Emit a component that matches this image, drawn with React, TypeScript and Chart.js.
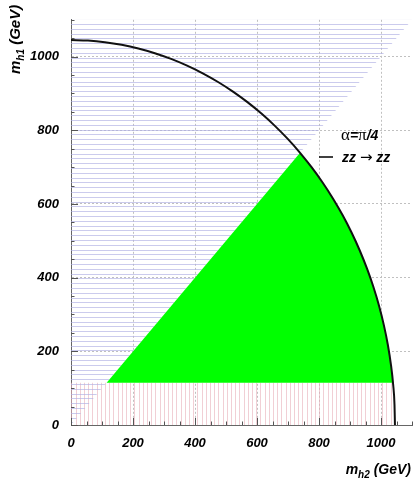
import { useEffect, useRef } from "react";
import { Chart, registerables } from "chart.js";

Chart.register(...registerables);

// ---- chart values ----
const AXIS_MIN = 0;
const AXIS_MAX = 1100;
const MAJOR_STEP = 200;
const MINOR_STEP = 50;
const RADIUS = 1045; // unitarity bound radius (GeV)
const Y_CUT = 115; // lower edge of allowed (green) region (GeV)
const ARC_ANGLES_DEG = [90, 87, 84, 81, 78, 75, 72, 69, 66, 63, 60, 57, 54, 51, 48, 45, 42, 39, 36, 33, 30, 27, 24, 21, 18, 15, 12, 9, 6, 3, 0];
const BLUE_REGION_X = [0, 1100, 0];
const BLUE_REGION_Y = [0, 1100, 1100];

const rad = (d: number) => (d * Math.PI) / 180;
const arcPt = (d: number) => ({ x: RADIUS * Math.cos(rad(d)), y: RADIUS * Math.sin(rad(d)) });
const cutDeg = (Math.asin(Y_CUT / RADIUS) * 180) / Math.PI;

const circleData = ARC_ANGLES_DEG.map(arcPt);
const greenData = [
  { x: Y_CUT, y: Y_CUT },
  arcPt(45),
  ...ARC_ANGLES_DEG.filter((d) => d < 45 && d > cutDeg).map(arcPt),
  arcPt(cutDeg),
  { x: Y_CUT, y: Y_CUT },
];
const redData = [
  { x: 0, y: 0 },
  arcPt(0),
  ...ARC_ANGLES_DEG.filter((d) => d > 0 && d < cutDeg).reverse().map(arcPt),
  arcPt(cutDeg),
  { x: 0, y: Y_CUT },
  { x: 0, y: 0 },
];
const blueData = BLUE_REGION_X.map((x, i) => ({ x, y: BLUE_REGION_Y[i] }));

const SANS = "'Liberation Sans', Arial, Helvetica, sans-serif";
const SERIF = "'Liberation Serif', 'DejaVu Serif', serif";

function makePattern(horizontal: boolean, color: string, spacing: number, count: number) {
  const c = document.createElement("canvas");
  const len = Math.round(spacing * count);
  c.width = horizontal ? 8 : len;
  c.height = horizontal ? len : 8;
  const g = c.getContext("2d")!;
  g.fillStyle = color;
  for (let i = 0; i < count; i++) {
    const p = Math.round(i * spacing);
    if (horizontal) g.fillRect(0, p, 8, 1);
    else g.fillRect(p, 0, 1, 8);
  }
  return g.createPattern(c, "repeat")!;
}

type Part = { t: string; font: string; dy?: number };
function drawParts(ctx: CanvasRenderingContext2D, parts: Part[], x: number, y: number) {
  let cx = x;
  for (const p of parts) {
    ctx.font = p.font;
    ctx.fillText(p.t, cx, y + (p.dy || 0));
    cx += ctx.measureText(p.t).width;
  }
  return cx - x;
}
function partsWidth(ctx: CanvasRenderingContext2D, parts: Part[]) {
  let w = 0;
  for (const p of parts) {
    ctx.font = p.font;
    w += ctx.measureText(p.t).width;
  }
  return w;
}

const decorPlugin = {
  id: "decor",
  afterDraw(chart: any) {
    const ctx: CanvasRenderingContext2D = chart.ctx;
    const xs = chart.scales.x;
    const ys = chart.scales.y;
    ctx.save();
    // inner ticks
    ctx.strokeStyle = "#555";
    ctx.lineWidth = 1;
    for (let v = AXIS_MIN; v <= AXIS_MAX; v += MINOR_STEP) {
      const len = v % MAJOR_STEP === 0 ? 7 : 3.5;
      const px = Math.round(xs.getPixelForValue(v)) + 0.5;
      ctx.beginPath();
      ctx.moveTo(px, ys.bottom);
      ctx.lineTo(px, ys.bottom - len);
      ctx.stroke();
      const py = Math.round(ys.getPixelForValue(v)) + 0.5;
      ctx.beginPath();
      ctx.moveTo(xs.left, py);
      ctx.lineTo(xs.left + len, py);
      ctx.stroke();
    }
    ctx.fillStyle = "#000";
    ctx.textBaseline = "alphabetic";
    ctx.textAlign = "left";
    const bi = (s: number) => `italic bold ${s}px ${SANS}`;
    // y title (rotated)
    ctx.save();
    ctx.translate(20, 74);
    ctx.rotate(-Math.PI / 2);
    drawParts(ctx, [
      { t: "m", font: bi(15) },
      { t: "h1", font: bi(10), dy: 4 },
      { t: " (GeV)", font: bi(15) },
    ], 0, 0);
    ctx.restore();
    // x title
    const xParts: Part[] = [
      { t: "m", font: bi(14) },
      { t: "h2", font: bi(10), dy: 4 },
      { t: " (GeV)", font: bi(14) },
    ];
    const w = partsWidth(ctx, xParts);
    drawParts(ctx, xParts, 411 - w, 474);
    // legend
    drawParts(ctx, [
      { t: "α", font: `17px ${SERIF}` },
      { t: "=", font: bi(14) },
      { t: "π", font: `17px ${SERIF}` },
      { t: "/4", font: bi(14) },
    ], 341, 140);
    ctx.strokeStyle = "#000";
    ctx.lineWidth = 1.5;
    ctx.beginPath();
    ctx.moveTo(319, 157);
    ctx.lineTo(333, 157);
    ctx.stroke();
    drawParts(ctx, [
      { t: "zz ", font: bi(14) },
      { t: "→", font: `15px 'DejaVu Sans', sans-serif` },
      { t: " zz", font: bi(14) },
    ], 342, 162);
    ctx.restore();
  },
};

export default function App() {
  const ref = useRef<HTMLCanvasElement>(null);
  useEffect(() => {
    const canvas = ref.current!;
    const bluePat = makePattern(true, "rgba(175,175,228,0.65)", 4.8, 5);
    const redPat = makePattern(false, "rgba(232,175,185,0.6)", 4.2, 5);
    const tickFont = { family: SANS, size: 13, weight: "bold" as const, style: "italic" as const };
    const chart = new Chart(canvas, {
      type: "line",
      data: {
        datasets: [
          { data: redData, fill: "shape", backgroundColor: redPat, borderWidth: 0, pointRadius: 0, order: 4 } as any,
          { data: blueData, fill: "shape", backgroundColor: bluePat, borderWidth: 0, pointRadius: 0, order: 3 } as any,
          { data: greenData, fill: "shape", backgroundColor: "#00ff00", borderWidth: 0, pointRadius: 0, order: 2 } as any,
          { data: circleData, fill: false, borderColor: "#111", borderWidth: 2, pointRadius: 0, tension: 0.4, cubicInterpolationMode: "monotone", order: 1 } as any,
        ],
      },
      options: {
        animation: false,
        responsive: false,
        devicePixelRatio: 1,
        layout: { padding: { top: 6, right: 2, left: 0, bottom: 0 } },
        plugins: { legend: { display: false }, tooltip: { enabled: false } },
        events: [],
        scales: {
          x: {
            type: "linear",
            min: AXIS_MIN,
            max: AXIS_MAX,
            afterFit: (s: any) => { s.height = 54; },
            ticks: { stepSize: MAJOR_STEP, includeBounds: false, padding: 11, color: "#000", font: tickFont, maxRotation: 0, callback: (v: any) => String(v) },
            grid: { color: "#c0c0c0", drawTicks: false, lineWidth: 1 },
            border: { color: "#666", width: 1, dash: [2, 2] },
          },
          y: {
            type: "linear",
            min: AXIS_MIN,
            max: AXIS_MAX,
            afterFit: (s: any) => { s.width = 71; },
            ticks: { stepSize: MAJOR_STEP, includeBounds: false, padding: 12, color: "#000", font: tickFont, callback: (v: any) => String(v) },
            grid: { color: "#c0c0c0", drawTicks: false, lineWidth: 1 },
            border: { color: "#666", width: 1, dash: [2, 2] },
          },
        },
      },
      plugins: [decorPlugin],
    } as any);
    return () => chart.destroy();
  }, []);
  return (
    <div style={{ position: "absolute", left: 0, top: 0, width: 414, height: 479, background: "#fff" }}>
      <canvas ref={ref} width={414} height={479} style={{ display: "block" }} />
    </div>
  );
}
